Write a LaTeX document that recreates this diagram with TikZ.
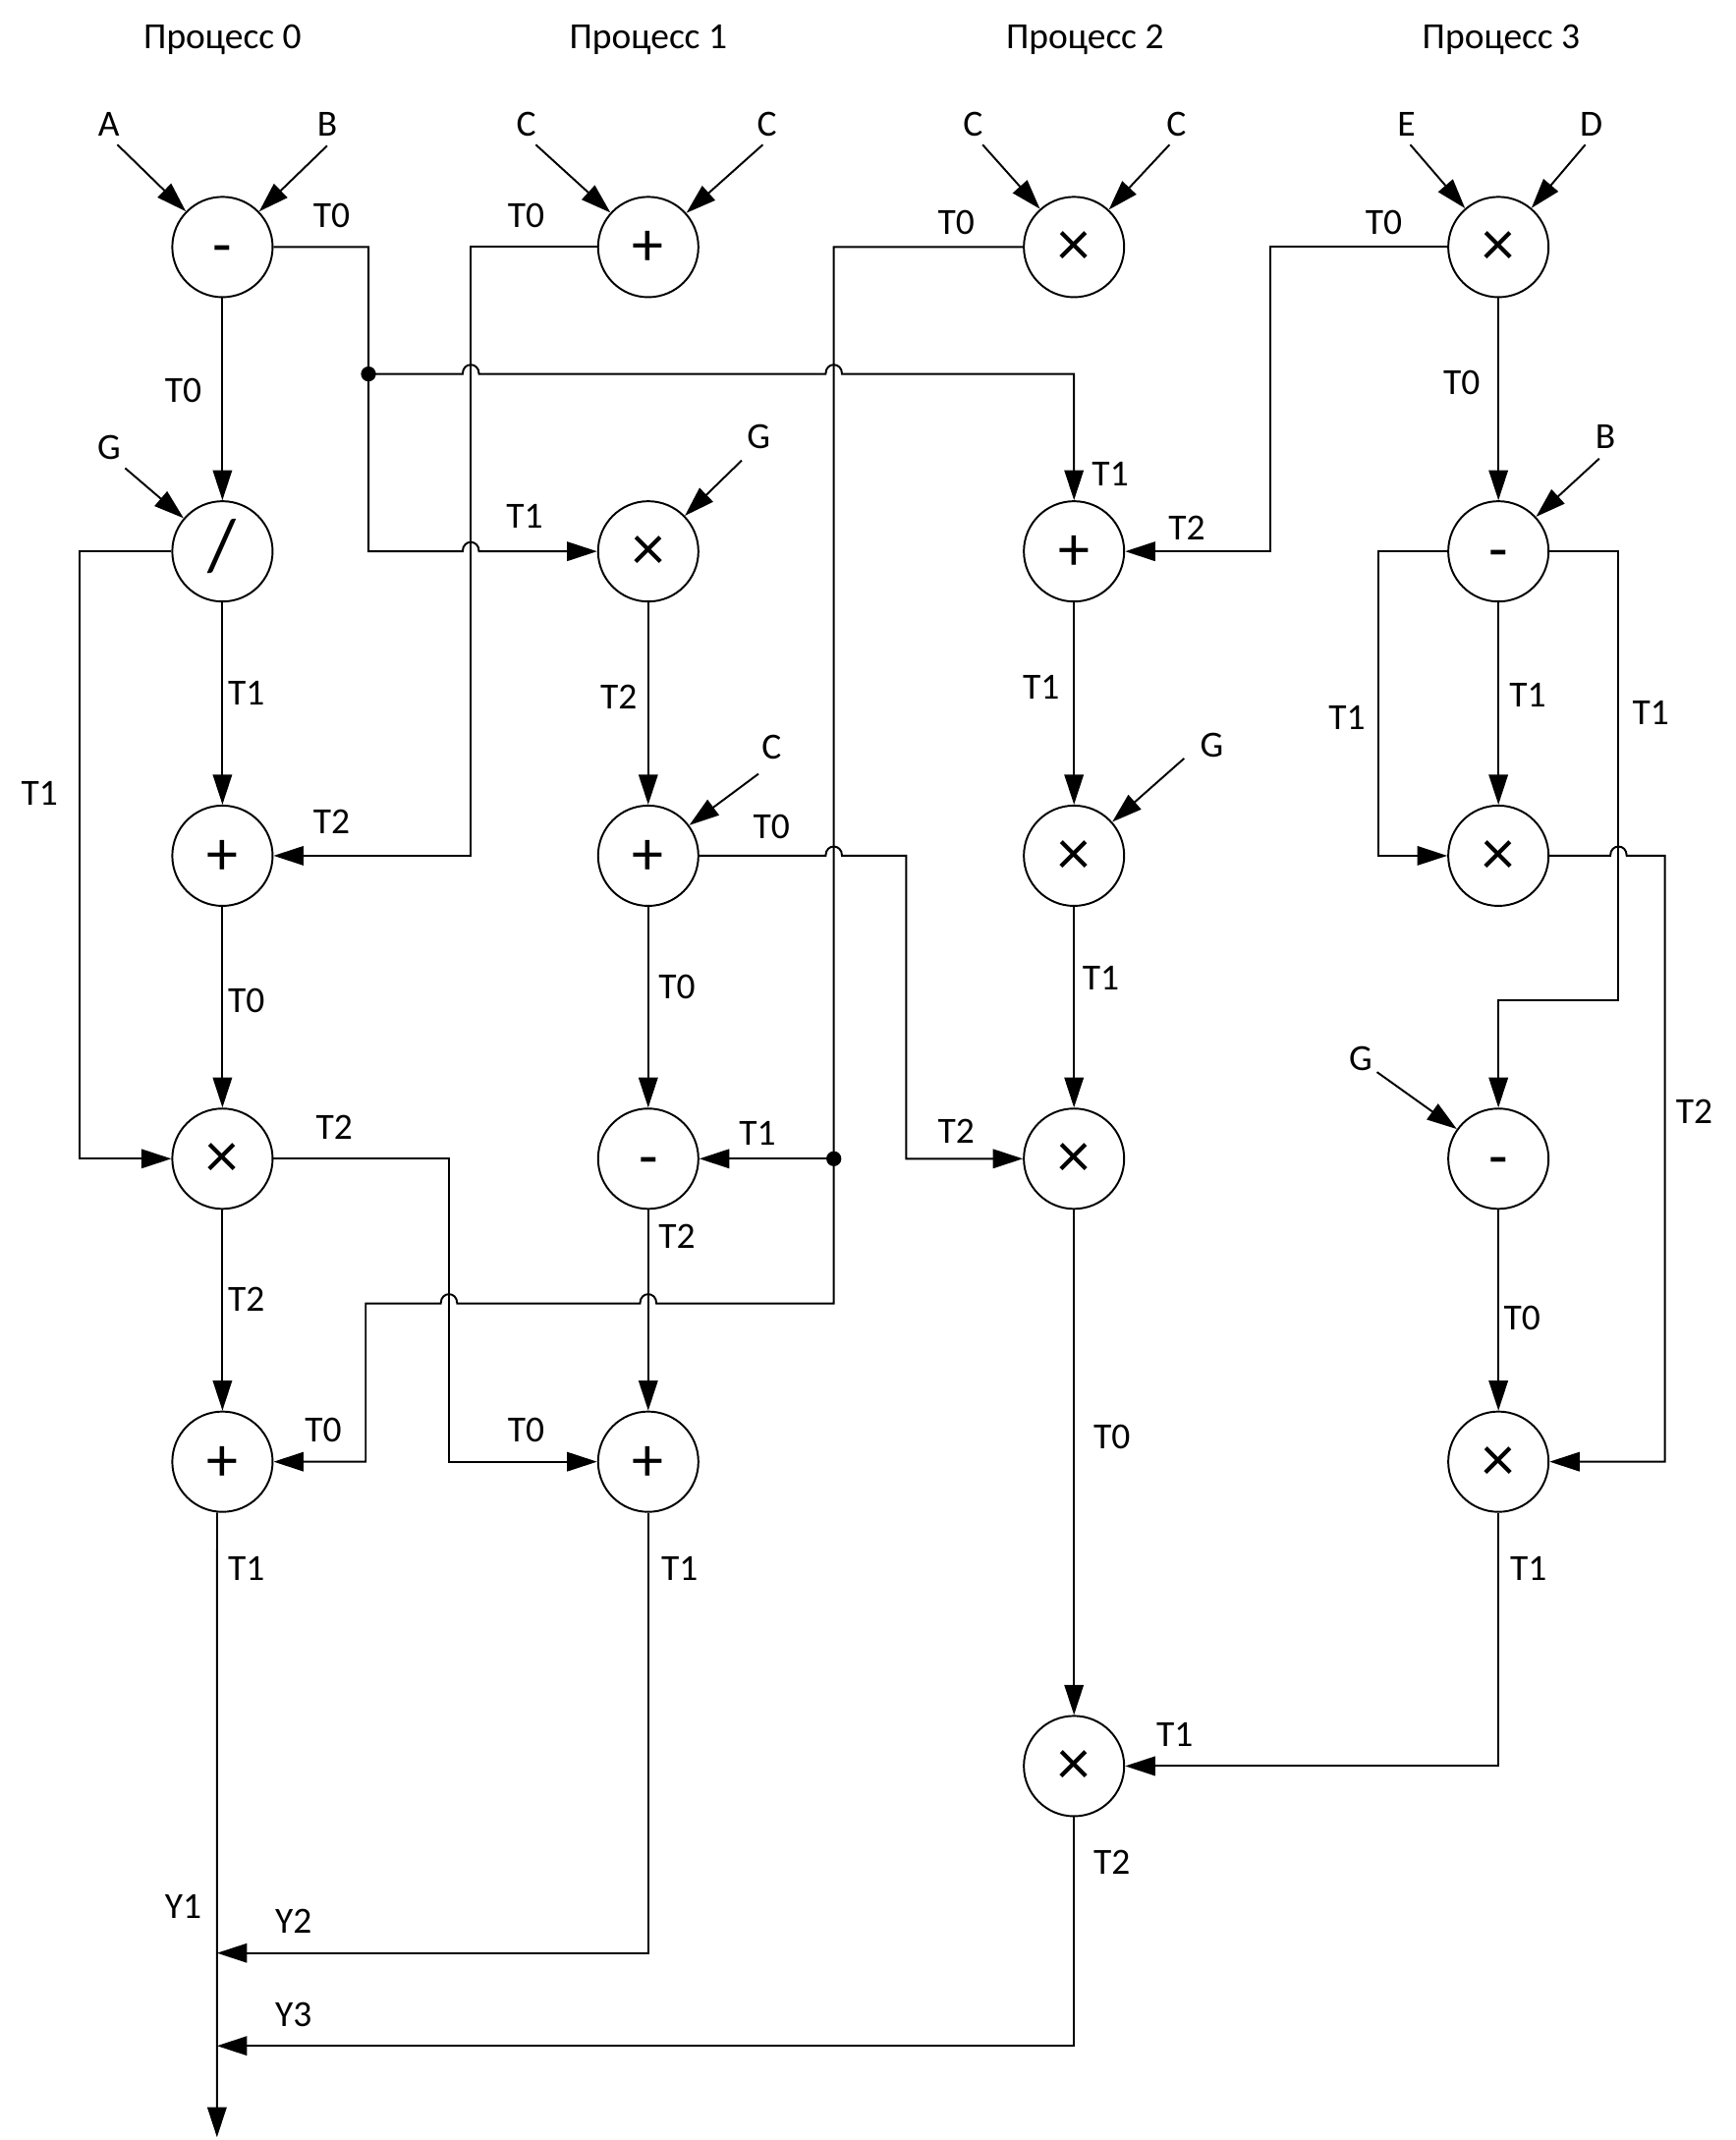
\documentclass[tikz,border=0pt]{standalone}
\usepackage{fontspec}
\setmainfont{Carlito}
\usetikzlibrary{arrows.meta,calc}
\begin{document}
\begin{tikzpicture}[x=1pt,y=-1pt,
  op/.style={circle,draw,line width=1.4pt,minimum size=73.5pt,inner sep=0pt,text height=28pt,text depth=0pt,font=\fontsize{46}{50}\selectfont},
  opx/.style={font=\fontsize{48}{52}\selectfont},
  ops/.style={font=\fontsize{54}{58}\selectfont},
  lbl/.style={inner sep=0pt,text height=17.4pt,text depth=0pt,font=\fontsize{27}{30}\selectfont},
  ln/.style={line width=1.4pt},
  arr/.style={ln,-{Triangle[length=22pt,width=14pt]}}
]
\useasboundingbox (0,0) rectangle (1272,1568);

% headers
\node[lbl] (p0) at (163,27) {Процесс 0};
\node[lbl] (p1) at (475,27) {Процесс 1};
\node[lbl] (p2) at (795,27) {Процесс 2};
\node[lbl] (p3) at (1100,27) {Процесс 3};

% operation nodes
\node[op] (a1) at (163,181) {-};
\node[op,ops] (a2) at (163,404) {/};
\node[op] (a3) at (163,627) {+};
\node[op,opx] (a4) at (163,849) {×};
\node[op] (a5) at (163,1071) {+};

\node[op] (b1) at (475,181) {+};
\node[op,opx] (b2) at (475,404) {×};
\node[op] (b3) at (475,627) {+};
\node[op] (b4) at (475,849) {-};
\node[op] (b5) at (475,1071) {+};

\node[op,opx] (c1) at (787,181) {×};
\node[op] (c2) at (787,404) {+};
\node[op,opx] (c3) at (787,627) {×};
\node[op,opx] (c4) at (787,849) {×};
\node[op,opx] (c5) at (787,1294) {×};

\node[op,opx] (d1) at (1098,181) {×};
\node[op] (d2) at (1098,404) {-};
\node[op,opx] (d3) at (1098,627) {×};
\node[op] (d4) at (1098,849) {-};
\node[op,opx] (d5) at (1098,1071) {×};

% input labels and arrows
\node[lbl] (iA) at (79.8,91) {A};
\node[lbl] (iB) at (239.7,91) {B};
\node[lbl] (iC1) at (385.6,91) {C};
\node[lbl] (iC2) at (562,91) {C};
\node[lbl] (iC3) at (713,91) {C};
\node[lbl] (iC4) at (862,91) {C};
\node[lbl] (iE) at (1030.6,91) {E};
\node[lbl] (iD) at (1166,91) {D};
\node[lbl] (iG1) at (79.8,328) {G};
\node[lbl] (iG2) at (556,320) {G};
\node[lbl] (iB2) at (1176.4,320) {B};
\node[lbl] (iC5) at (565.4,547.7) {C};
\node[lbl] (iG3) at (888,546) {G};
\node[lbl] (iG4) at (997,776) {G};

\coordinate (sA) at (86,106);
\coordinate (sB) at (239.7,106.8);
\coordinate (sC1) at (392.6,106);
\coordinate (sC2) at (559,106);
\coordinate (sC3) at (720,106);
\coordinate (sC4) at (857,106);
\coordinate (sE) at (1033.4,106);
\coordinate (sD) at (1161.7,106);
\coordinate (sG1) at (91.7,343);
\coordinate (sG2) at (543.5,337.4);
\coordinate (sB2) at (1171.9,336);
\coordinate (sC5) at (555.8,567);
\coordinate (sG3) at (867.7,555.7);
\coordinate (sG4) at (1009,785.5);

\draw[arr] (sA) -- (a1);
\draw[arr] (sB) -- (a1);
\draw[arr] (sC1) -- (b1);
\draw[arr] (sC2) -- (b1);
\draw[arr] (sC3) -- (c1);
\draw[arr] (sC4) -- (c1);
\draw[arr] (sE) -- (d1);
\draw[arr] (sD) -- (d1);
\draw[arr] (sG1) -- (a2);
\draw[arr] (sG2) -- (b2);
\draw[arr] (sB2) -- (d2);
\draw[arr] (sC5) -- (b3);
\draw[arr] (sG3) -- (c3);
\draw[arr] (sG4) -- (d4);

% vertical arrows
\foreach \u/\v in {a1/a2,a2/a3,a3/a4,a4/a5,b2/b3,b3/b4,b4/b5,c2/c3,c3/c4,c4/c5,d1/d2,d2/d3,d4/d5}
  \draw[arr] (\u) -- (\v);

% helper coordinates
\coordinate (j1) at (270,274);
\coordinate (j2) at (611,849);
\coordinate (xL) at (270,0);
\coordinate (xB) at (345,0);
\coordinate (xA) at (58,0);
\coordinate (xE) at (329,0);
\coordinate (xD) at (664,0);
\coordinate (xF) at (931,0);
\coordinate (xG) at (1010,0);
\coordinate (xI) at (1220,0);
\coordinate (q1) at (611,955);
\coordinate (q2) at (268,955);
\coordinate (r1) at (1186,733);
\coordinate (m2) at (159,1431);
\coordinate (m3) at (159,1499);
\coordinate (yb) at (159,1566);
\coordinate (h1) at (345,404);
\coordinate (h2) at (345,274);
\coordinate (h3) at (611,274);
\coordinate (h4) at (475,955);
\coordinate (h5) at (329,955);
\coordinate (h6) at (611,627);
\coordinate (h7) at (1186,627);

% routed connectors
\draw[arr] (a1.east) -| (xL |- b2) -- ([xshift=-6pt]h1) .. controls +(0,-9) and +(0,-9) .. ([xshift=6pt]h1) -- (b2.west);
\draw[arr] (j1) -- ([xshift=-6pt]h2) .. controls +(0,-9) and +(0,-9) .. ([xshift=6pt]h2)
  -- ([xshift=-6pt]h3) .. controls +(0,-9) and +(0,-9) .. ([xshift=6pt]h3) -| (c2.north);
\fill (j1) circle[radius=5.5pt];

\draw[arr] (b1.west) -| (xB |- a3) -- (a3.east);

\draw[arr] (c1.west) -| (j2) -- (q1) -- ([xshift=6pt]h4) .. controls +(0,-9) and +(0,-9) .. ([xshift=-6pt]h4)
  -- ([xshift=6pt]h5) .. controls +(0,-9) and +(0,-9) .. ([xshift=-6pt]h5) -- (q2) |- (a5.east);
\draw[arr] (j2) -- (b4.east);
\fill (j2) circle[radius=5.5pt];

\draw[arr] (a2.west) -- (xA |- a2) |- (a4.west);
\draw[arr] (a4.east) -- (xE |- a4) |- (b5.west);
\draw[arr] (b3.east) -- ([xshift=-6pt]h6) .. controls +(0,-9) and +(0,-9) .. ([xshift=6pt]h6) -- (xD |- b3) |- (c4.west);
\draw[arr] (d1.west) -- (xF |- d1) |- (c2.east);
\draw[arr] (d2.west) -- (xG |- d2) |- (d3.west);
\draw[arr] (d2.east) -| (r1) -| (d4.north);
\draw[arr] (d3.east) -- ([xshift=-6pt]h7) .. controls +(0,-9) and +(0,-9) .. ([xshift=6pt]h7) -- (xI |- d3) |- (d5.east);
\draw[arr] (d5.south) |- (c5.east);
\draw[arr] (b5.south) |- (m2);
\draw[arr] (c5.south) |- (m3);
\draw[arr] (a5.-96) -- (yb);

% edge labels
\node[lbl] (t1) at (243,158) {T0};
\node[lbl] (t2) at (134.3,286) {T0};
\node[lbl] (t3) at (385.6,158) {T0};
\node[lbl] (t4) at (700.7,163) {T0};
\node[lbl] (t5) at (1014,163) {T0};
\node[lbl] (t6) at (1071,280.4) {T0};
\node[lbl] (t7) at (384.4,378.6) {T1};
\node[lbl] (t8) at (813.6,347.3) {T1};
\node[lbl] (t9) at (869.7,387.2) {T2};
\node[lbl] (t10) at (180.6,507.5) {T1};
\node[lbl] (t11) at (243,602.3) {T2};
\node[lbl] (t12) at (180.6,733.4) {T0};
\node[lbl] (t13) at (245,825.7) {T2};
\node[lbl] (t14) at (29,581.4) {T1};
\node[lbl] (t15) at (453.4,510.7) {T2};
\node[lbl] (t16) at (565.4,605.5) {T0};
\node[lbl] (t17) at (496,722.8) {T0};
\node[lbl] (t18) at (555,830.5) {T1};
\node[lbl] (t19) at (496,906) {T2};
\node[lbl] (t20) at (763,503.3) {T1};
\node[lbl] (t21) at (987,525.9) {T1};
\node[lbl] (t22) at (1119.4,509) {T1};
\node[lbl] (t23) at (1209.7,522.6) {T1};
\node[lbl] (t24) at (806.6,716.3) {T1};
\node[lbl] (t25) at (700.7,828.9) {T2};
\node[lbl] (t26) at (1241.5,814.4) {T2};
\node[lbl] (t27) at (180.6,952) {T2};
\node[lbl] (t28) at (236.8,1047.8) {T0};
\node[lbl] (t29) at (385.6,1047.8) {T0};
\node[lbl] (t30) at (180.6,1149) {T1};
\node[lbl] (t31) at (498,1149) {T1};
\node[lbl] (t32) at (1115.3,965.8) {T0};
\node[lbl] (t33) at (814.8,1052.6) {T0};
\node[lbl] (t34) at (1120,1149) {T1};
\node[lbl] (t35) at (860.8,1271.2) {T1};
\node[lbl] (t36) at (814.8,1364.3) {T2};
\node[lbl] (y1) at (134.3,1396.7) {Y1};
\node[lbl] (y2) at (215,1408) {Y2};
\node[lbl] (y3) at (215,1476) {Y3};
\end{tikzpicture}
\end{document}
